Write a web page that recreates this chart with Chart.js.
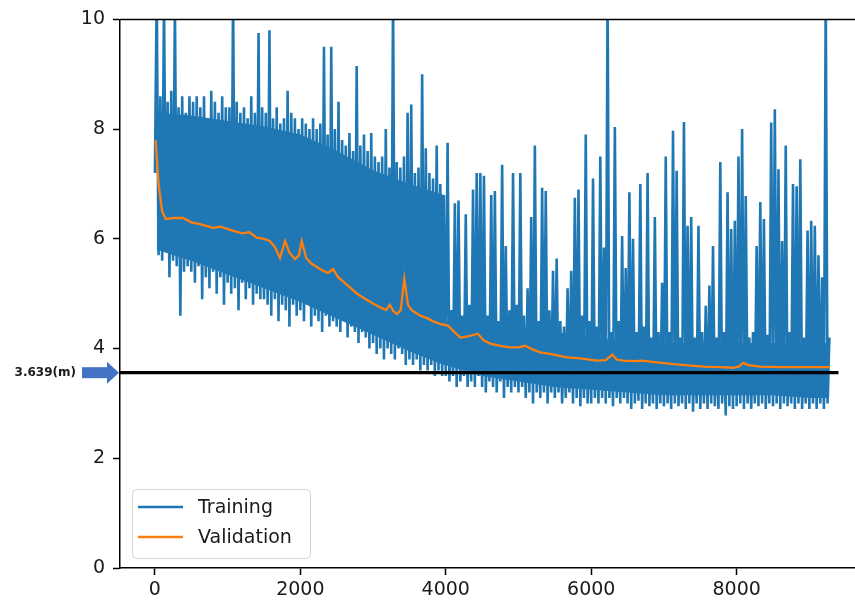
<!DOCTYPE html>
<html>
<head>
<meta charset="utf-8">
<script src="https://cdn.jsdelivr.net/npm/chart.js@4/dist/chart.umd.min.js"></script>
<style>
  html, body { margin: 0; padding: 0; background: #fff; overflow: hidden; }
  #wrap { width: 880px; height: 603px; }
</style>
</head>
<body>
<div id="wrap"><canvas id="lossChart" width="880" height="603"></canvas></div>
<script>
// Training / validation loss curve
const BLUE = "#1f77b4";
const ORANGE = "#ff7f0e";
const ARROW_BLUE = "#4472c4";

const X_TICKS = [0, 2000, 4000, 6000, 8000];
const Y_TICKS = [0, 2, 4, 6, 8, 10];
const THRESHOLD = 3.56;          // drawn reference line
const THRESHOLD_END = 9400;
const THRESHOLD_LABEL = "3.639(m)";

// training loss, one value every TRAIN_STEP steps (500 steps per row)
const TRAIN_STEP = 25;
const TRAIN_LOSS = [
  7.2,10.5,5.7,8.6,5.6,10.4,5.8,8.5,5.3,8.7,5.6,10.3,5.5,8.4,4.6,8.6,5.4,8.3,5.5,8.6,
  5.4,8.5,5.2,8.6,5.5,8.4,4.9,8.6,5.3,8.2,5.1,8.7,5.4,8.5,5.0,8.3,5.3,8.6,4.8,8.4,
  5.2,8.4,5.0,10.5,5.1,8.5,4.7,8.3,5.2,8.4,4.9,8.2,5.1,8.6,4.8,8.3,5.0,9.75,4.9,8.4,
  4.9,8.3,4.8,9.8,4.6,8.2,4.9,8.4,4.5,8.1,4.8,8.2,4.7,8.7,4.4,8.3,4.8,8.2,4.6,8.0,
  4.7,8.2,4.5,8.1,4.8,8.0,4.4,8.2,4.6,8.0,4.5,8.1,4.3,9.5,4.6,7.9,4.4,9.5,4.5,8.0,
  4.4,8.5,4.3,7.8,4.5,7.7,4.2,7.93,4.4,7.6,4.3,9.15,4.1,7.7,4.3,7.9,4.2,7.6,4.0,7.93,
  4.1,7.5,3.9,7.4,4.0,7.5,3.8,8.0,4.0,7.3,3.9,10.5,3.8,7.4,4.0,7.3,3.9,7.5,3.7,8.3,
  3.8,8.45,3.7,7.2,3.8,7.3,3.6,9.0,3.7,7.65,3.6,7.2,3.7,7.1,3.5,7.7,3.6,7.0,3.5,6.8,
  3.5,7.75,3.4,4.7,3.5,6.65,3.3,6.7,3.4,4.6,3.5,6.45,3.3,4.8,3.4,6.9,3.3,7.2,3.5,7.2,
  3.3,7.15,3.2,4.6,3.4,6.8,3.3,6.87,3.2,4.5,3.4,7.35,3.1,5.87,3.3,4.7,3.2,7.2,3.3,4.8,
  3.2,7.2,3.3,4.6,3.1,5.1,3.2,6.4,3.0,7.7,3.2,4.5,3.1,6.93,3.2,6.87,3.0,4.7,3.2,5.42,
  3.1,5.64,3.2,4.5,3.0,4.4,3.1,5.1,3.2,5.42,3.0,6.75,3.1,6.9,2.95,4.6,3.1,7.9,3.0,4.5,
  3.0,7.1,3.1,4.4,3.0,7.5,3.1,5.84,3.0,10.5,3.1,4.3,2.95,8.04,3.1,4.5,3.0,6.05,3.1,5.47,
  3.0,6.85,2.9,6.0,3.0,4.3,3.05,7.0,2.9,4.4,3.0,7.2,2.95,4.2,3.0,6.4,2.9,4.3,3.0,5.2,
  2.95,7.5,3.0,4.3,2.9,7.97,3.0,7.24,2.95,4.2,3.0,8.13,2.9,6.24,3.0,6.4,2.85,4.2,3.0,6.24,
  2.9,4.3,3.0,4.78,2.9,5.15,3.0,5.87,2.95,4.2,2.9,7.4,3.0,4.3,2.78,6.85,2.95,6.18,2.9,6.33,
  2.95,7.5,3.0,8.0,2.9,6.78,3.0,4.2,2.9,4.3,3.0,5.87,2.95,6.67,3.0,6.36,2.9,4.25,3.0,8.12,
  2.95,8.36,3.0,7.27,2.9,5.96,3.0,7.7,2.95,4.3,3.0,7.0,2.9,6.96,3.0,7.45,2.9,4.2,3.0,6.15,
  2.9,6.33,3.0,6.24,2.9,5.7,3.0,5.3,2.9,10.5,3.0,4.2
];

// the solid (fully overdrawn) part of the training noise
const BAND_STEPS = [25, 500, 1000, 1500, 2000, 2500, 3000, 3500, 3975, 4000, 4500, 5000, 5500, 6000, 6500, 7000, 7500, 8000, 8500, 9000, 9275];
const BAND_LOW   = [5.8, 5.6, 5.35, 5.1, 4.85, 4.55, 4.25, 3.95, 3.7, 3.7, 3.5, 3.4, 3.3, 3.25, 3.2, 3.15, 3.15, 3.15, 3.15, 3.1, 3.1];
const BAND_HIGH  = [8.3, 8.25, 8.15, 8.05, 7.9, 7.6, 7.25, 7.0, 6.8, 4.5, 4.45, 4.35, 4.3, 4.2, 4.15, 4.1, 4.1, 4.1, 4.1, 4.1, 4.1];

const VAL_STEPS = [
  10,50,100,150,250,385,500,620,800,900,1070,1200,1300,1400,1500,1580,1650,1720,1790,1850,
  1925,1980,2020,2080,2150,2310,2380,2450,2520,2650,2780,2900,3000,3100,3180,3230,3280,3330,3380,3430,
  3480,3530,3650,3750,3820,3920,4030,4120,4200,4300,4440,4520,4610,4750,4880,5000,5090,5200,5300,5450,
  5670,5850,6080,6200,6290,6350,6440,6600,6700,6900,7100,7360,7550,7770,7950,8030,8090,8160,8320,8600,
  9000,9280
];
const VAL_LOSS = [
  7.8,7.0,6.5,6.36,6.38,6.38,6.3,6.27,6.2,6.22,6.15,6.1,6.12,6.02,6.0,5.96,5.85,5.65,5.96,5.75,
  5.63,5.7,5.96,5.65,5.55,5.42,5.38,5.45,5.3,5.15,5.0,4.9,4.82,4.75,4.7,4.8,4.68,4.63,4.7,5.27,
  4.8,4.7,4.6,4.55,4.5,4.45,4.42,4.3,4.2,4.22,4.27,4.15,4.09,4.05,4.02,4.02,4.05,3.98,3.93,3.9,
  3.84,3.82,3.78,3.79,3.89,3.8,3.78,3.77,3.78,3.75,3.72,3.69,3.67,3.66,3.65,3.67,3.74,3.7,3.67,3.66,
  3.66,3.66
];

const FONT = "DejaVu Sans";

// matplotlib-ish extras: top spine, legend box, arrow + label on the left
const decorPlugin = {
  id: "decor",
  afterDatasetsDraw(chart) {
    const { ctx, chartArea: a } = chart;
    ctx.save();
    ctx.strokeStyle = "#000";
    ctx.lineWidth = 1.5;
    ctx.beginPath();
    ctx.moveTo(a.left, a.top);
    ctx.lineTo(a.right, a.top);
    ctx.stroke();
    ctx.restore();
  },
  afterDraw(chart) {
    const { ctx, chartArea: a } = chart;
    const yPix = chart.scales.y.getPixelForValue(THRESHOLD);

    // arrow
    ctx.save();
    ctx.fillStyle = ARROW_BLUE;
    ctx.fillRect(a.left - 38, yPix - 5.5, 27, 11);
    ctx.beginPath();
    ctx.moveTo(a.left - 13, yPix - 11);
    ctx.lineTo(a.left - 1, yPix);
    ctx.lineTo(a.left - 13, yPix + 11);
    ctx.closePath();
    ctx.fill();
    ctx.fillStyle = "#1a1a1a";
    ctx.font = `bold 12px "${FONT}"`;
    ctx.textAlign = "right";
    ctx.textBaseline = "middle";
    ctx.fillText(THRESHOLD_LABEL, a.left - 44, yPix);
    ctx.restore();

    // legend
    const items = chart.data.datasets.filter(d => d.label);
    const bx = a.left + 12, by = a.bottom - 79, bw = 178, bh = 69;
    ctx.save();
    ctx.fillStyle = "rgba(255,255,255,0.8)";
    ctx.strokeStyle = "#d4d4d4";
    ctx.lineWidth = 1;
    ctx.beginPath();
    ctx.roundRect(bx + 0.5, by + 0.5, bw, bh, 4);
    ctx.fill();
    ctx.stroke();
    ctx.font = `19px "${FONT}"`;
    ctx.textAlign = "left";
    ctx.textBaseline = "middle";
    items.forEach((d, i) => {
      const ly = by + 18 + i * 30;
      ctx.strokeStyle = d.borderColor;
      ctx.lineWidth = 2.4;
      ctx.beginPath();
      ctx.moveTo(bx + 6, ly);
      ctx.lineTo(bx + 51, ly);
      ctx.stroke();
      ctx.fillStyle = "#1a1a1a";
      ctx.fillText(d.label, bx + 66, ly + 1);
    });
    ctx.restore();
  }
};

const tickFont = { family: FONT, size: 19 };

new Chart(document.getElementById("lossChart").getContext("2d"), {
  type: "line",
  data: {
    datasets: [
      {
        label: "Training",
        data: TRAIN_LOSS.map((v, i) => ({ x: i * TRAIN_STEP, y: v })),
        borderColor: BLUE,
        borderWidth: 2.6,
        pointRadius: 0,
        tension: 0,
        order: 2,
      },
      {
        label: "Validation",
        data: VAL_STEPS.map((s, i) => ({ x: s, y: VAL_LOSS[i] })),
        borderColor: ORANGE,
        borderWidth: 2.3,
        pointRadius: 0,
        tension: 0,
        order: 1,
      },
      {
        data: [{ x: -480, y: THRESHOLD }, { x: THRESHOLD_END, y: THRESHOLD }],
        borderColor: "#000",
        borderWidth: 3.2,
        pointRadius: 0,
        order: 0,
      },
      {
        // lower edge of the dense band
        data: BAND_STEPS.map((s, i) => ({ x: s, y: BAND_LOW[i] })),
        borderWidth: 0,
        pointRadius: 0,
        fill: false,
        order: 4,
      },
      {
        // upper edge of the dense band, filled down to the lower edge
        data: BAND_STEPS.map((s, i) => ({ x: s, y: BAND_HIGH[i] })),
        borderWidth: 0,
        pointRadius: 0,
        fill: "-1",
        backgroundColor: BLUE,
        order: 3,
      },
    ]
  },
  options: {
    responsive: false,
    animation: false,
    events: [],
    layout: { padding: { top: 18, right: 15, left: 0, bottom: 0 } },
    plugins: {
      legend: { display: false },
      tooltip: { enabled: false },
    },
    scales: {
      x: {
        type: "linear",
        min: -480,
        max: 9765,
        afterBuildTicks: (s) => { s.ticks = X_TICKS.map(v => ({ value: v })); },
        afterFit: (s) => { s.height = 35; },
        ticks: { font: tickFont, color: "#1a1a1a", padding: 4, maxRotation: 0, callback: (v) => String(v) },
        grid: { drawOnChartArea: false, tickLength: 7, tickColor: "#000", tickWidth: 1.5 },
        border: { color: "#000", width: 1.5 },
      },
      y: {
        min: 0,
        max: 10,
        afterBuildTicks: (s) => { s.ticks = Y_TICKS.map(v => ({ value: v })); },
        afterFit: (s) => { s.width = 120; },
        ticks: { font: tickFont, color: "#1a1a1a", padding: 8, callback: (v) => String(v) },
        grid: { drawOnChartArea: false, tickLength: 7, tickColor: "#000", tickWidth: 1.5 },
        border: { color: "#000", width: 1.5 },
      }
    }
  },
  plugins: [decorPlugin]
});
</script>
</body>
</html>
